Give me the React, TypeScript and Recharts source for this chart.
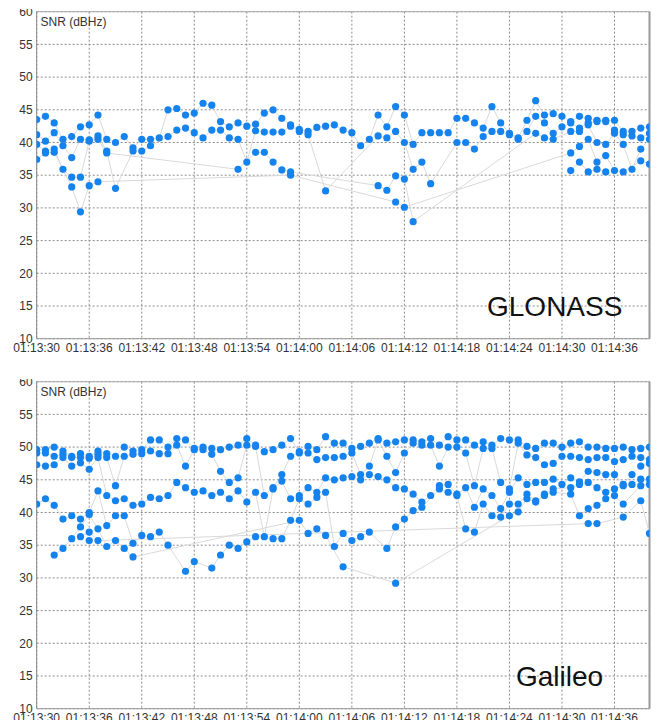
import { ComposedChart, Line, XAxis, YAxis, CartesianGrid, ReferenceLine } from 'recharts';

const _ = null;

// one sample per second, 01:13:30 .. 01:14:40
const SECONDS = Array.from({ length: 71 }, (_v, i) => i);
const TICK_SECONDS = [0, 6, 12, 18, 24, 30, 36, 42, 48, 54, 60, 66];
const TICK_LABELS = [
  '01:13:30', '01:13:36', '01:13:42', '01:13:48', '01:13:54', '01:14:00',
  '01:14:06', '01:14:12', '01:14:18', '01:14:24', '01:14:30', '01:14:36',
];
const SNR_TICKS = [10, 15, 20, 25, 30, 35, 40, 45, 50, 55, 60];

// GLONASS satellites, SNR (dBHz) per second
const GLO_1 = [
  43.5, 44.0, 43.0, 40.5, 40.9, 42.4, 42.7, 44.2, 40.5, 40.0,
  40.9, 39.2, 40.5, 40.5, 40.7, 45.0, 45.2, 44.2, 44.5, 46.0,
  45.7, 43.2, 42.4, 43.0, 42.5, 42.8, 44.5, 45.0, 43.7, 42.7,
  42.0, 41.7, 42.3, 42.5, 42.7, 41.9, 41.5, 39.5, 40.5, 44.2,
  42.4, 45.5, 44.2, 39.7, 41.5, 41.5, 41.5, 41.5, 43.7, 43.7,
  43.0, 42.2, 45.5, 43.0, 41.4, 40.7, 43.4, 46.4, 44.2, 44.4,
  44.0, 43.2, 44.0, 43.7, 43.4, 43.4, 43.4, 41.7, 41.7, 42.2,
  42.4,
];
const GLO_2 = [
  41.2, 40.2, 41.5, 39.5, 37.7, 40.5, 40.4, 41.0, 38.7, 33.0,
  _, 38.7, 38.7, 39.5, _, 40.9, 41.9, 42.2, 41.5, 40.7,
  41.9, 41.9, 40.7, 40.5, 37.0, 41.8, 41.6, 41.6, 41.6, 42.5,
  41.7, 41.2, _, 32.6, _, _, _, _, _, 41.0,
  40.7, 41.7, 40.0, 35.9, 37.0, 33.7, _, _, 40.0, 40.0,
  39.0, 40.9, 41.7, 41.7, 41.2, 40.5, 41.7, 44.0, 43.0, 41.4,
  42.4, 43.0, 42.2, 43.0, 43.2, 43.2, 41.9, 41.2, 41.0, 40.7,
  41.4,
];
const GLO_3 = [
  39.7, 38.7, 39.0, 35.9, 34.7, 34.7, 40.2, 40.5, 38.4, _,
  _, _, _, _, _, _, _, _, _, _,
  _, _, _, 35.9, _, 38.5, 38.5, 37.0, 35.8, 35.5,
  _, _, _, _, _, _, _, _, _, 33.4,
  32.7, 34.9, 34.4, 27.9, _, _, _, _, _, _,
  _, _, _, _, _, _, _, 41.4, 40.7, 40.5,
  _, 41.7, 41.7, 42.7, 40.0, 39.7, 41.4, 39.7, 35.9, 39.0,
  40.5,
];
const GLO_4 = [
  37.4, 38.4, 38.5, _, 33.2, 29.4, 33.4, 34.0, _, _,
  _, _, _, _, _, _, _, _, _, _,
  _, _, _, _, _, _, _, _, _, 35.0,
  _, _, _, _, _, _, _, _, _, _,
  _, 30.9, 30.1, _, _, _, _, _, _, _,
  _, _, _, _, _, _, _, _, _, _,
  _, 38.4, 39.4, 40.5, 37.0, 38.0, 35.7, 35.5, _, 37.2,
  36.7,
];
const GLO_5 = [
  _, _, _, _, _, _, _, _, _, _,
  _, _, _, _, _, _, _, _, _, _,
  _, _, _, _, _, _, _, _, _, _,
  _, _, _, _, _, _, _, _, _, _,
  _, _, _, _, _, _, _, _, _, _,
  _, _, _, _, _, _, _, _, _, _,
  _, 35.7, 37.0, 35.5, 35.9, 35.5, _, _, _, _,
  _,
];

// Galileo satellites, SNR (dBHz) per second
const GAL_1 = [
  49.6, 49.6, 50.0, 49.4, 48.6, 49.0, 48.6, 49.4, 49.0, 48.6,
  50.0, 49.4, 49.6, 51.1, 51.1, 50.0, 51.3, 51.1, 49.8, 50.0,
  49.8, 49.6, 50.0, 50.3, 51.3, 50.3, 49.3, 49.6, 50.3, 51.3,
  49.3, 50.1, 49.6, 51.6, 50.6, 50.6, 49.8, 50.1, 50.6, 51.3,
  50.6, 50.8, 51.1, 51.1, 50.8, 51.3, 50.3, 51.6, 51.1, 51.1,
  50.3, 50.8, 50.3, 51.3, 51.1, 51.1, 50.1, 49.8, 50.6, 50.6,
  50.0, 50.6, 50.8, 50.0, 50.0, 49.8, 49.8, 50.0, 49.6, 49.8,
  50.0,
];
const GAL_2 = [
  49.1, 49.1, 48.6, 48.9, 48.4, 48.4, 48.3, 48.9, 48.4, 44.1,
  48.6, 48.9, 49.0, 49.4, 49.0, 49.0, 50.3, 47.1, 49.6, 49.6,
  48.9, 46.3, 44.6, 45.3, 50.3, 50.1, 42.6, 43.8, 45.8, 48.6,
  49.1, 49.1, 48.1, 48.4, 48.4, 48.6, 49.1, 45.8, 47.1, 51.1,
  48.6, 46.1, 49.1, 50.6, 50.3, 50.3, 47.1, 50.0, 50.0, 49.1,
  44.1, 49.8, 49.8, 44.6, 43.6, 50.6, 48.8, 48.4, 47.3, 47.5,
  48.6, 48.6, 48.4, 48.1, 48.4, 48.4, 47.8, 48.1, 48.6, 48.4,
  48.1,
];
const GAL_3 = [
  47.3, 47.1, 47.3, 48.4, 47.1, 47.6, 46.6, 48.4, 42.6, 41.8,
  42.1, 41.1, 41.3, 42.3, 42.1, 42.6, 44.6, 43.8, 43.1, 43.3,
  42.6, 43.1, 42.1, 43.3, 41.6, 43.1, 36.3, 43.6, 44.8, 42.1,
  42.6, 43.8, 43.1, 45.3, 45.0, 45.3, 45.5, 45.0, 45.8, 45.5,
  45.0, 43.8, 43.6, 42.8, 41.6, 42.6, 44.1, 44.3, 42.8, 43.8,
  40.8, 43.6, 42.6, 40.6, 43.1, 45.3, 44.3, 44.6, 44.6, 45.1,
  44.3, 45.3, 44.7, 46.3, 46.1, 45.8, 45.8, 44.3, 45.8, 47.1,
  47.5,
];
const GAL_4 = [
  41.3, 42.1, 41.1, 39.0, 39.5, 39.0, 40.0, 43.3, 38.0, 39.5,
  39.5, 35.3, 36.5, 36.3, 37.0, 35.0, _, 31.0, 32.5, _,
  31.5, 33.5, 35.0, 34.5, 35.5, 36.3, _, 36.0, 36.0, 38.8,
  42.1, 41.3, 42.3, 43.1, 34.8, 36.8, 35.7, 36.3, 37.0, _,
  34.5, 37.8, 39.0, 40.3, 40.8, _, 43.6, 43.1, 42.6, 37.5,
  37.0, 41.3, 39.5, 39.3, 41.3, 41.3, 42.8, 41.8, 42.8, 43.6,
  _, 43.8, 44.3, 44.6, 43.8, 43.1, 43.6, 44.1, 44.3, 45.1,
  45.1,
];
const GAL_5 = [
  _, _, 33.5, 34.5, 36.0, 37.8, 39.7, 37.5, 34.8, 35.7,
  34.5, 33.2, _, _, _, _, _, _, _, _,
  _, _, _, _, _, _, _, _, _, _,
  38.8, 36.8, 37.5, 36.5, _, 31.7, _, _, _, _,
  _, 29.2, _, _, _, _, _, _, _, _,
  _, _, _, _, 39.5, 40.1, 42.1, 41.6, 42.6, 43.1,
  _, 42.8, 39.5, 40.6, 41.1, 42.1, 42.6, 41.3, _, 44.1,
  44.3,
];
const GAL_6 = [
  _, _, _, _, _, 36.3, 37.0, 35.7, _, _,
  _, _, _, _, _, _, _, _, _, _,
  _, _, _, _, _, _, _, _, _, _,
  _, _, _, _, _, _, _, _, _, _,
  _, _, _, _, _, _, _, _, _, _,
  _, _, _, _, _, _, _, _, _, _,
  _, _, _, 38.3, 38.3, _, _, 39.3, _, 41.8,
  36.8,
];
const GAL_7 = [
  _, _, _, _, _, _, 35.7, _, _, _,
  _, _, _, _, _, _, _, _, _, _,
  _, _, _, _, _, _, _, _, _, _,
  _, _, _, _, _, _, _, _, _, _,
  _, _, _, _, _, _, _, _, _, _,
  _, _, _, _, _, _, _, _, _, _,
  _, _, _, _, _, _, _, _, _, _,
  _,
];

const DOT = '#1583ee';
const LINK = '#d9d9d9';
const FONT = '"Liberation Sans", Arial, sans-serif';

function SnrPanel({ tracks, name, nameLeft }: { tracks: (number | null)[][]; name: string; nameLeft: number }) {
  const keys = tracks.map((_t, i) => `s${i}`);
  const data = SECONDS.map((t, i) => {
    const row: any = { t };
    tracks.forEach((tr, k) => {
      row[keys[k]] = tr[i];
    });
    return row;
  });

  return (
    <div style={{ position: 'relative', width: 660, height: 351 }}>
      <ComposedChart width={660} height={351} data={data} margin={{ top: 2.7, right: 10.5, left: 0, bottom: 0 }}>
        <CartesianGrid stroke="#8c8c8c" strokeDasharray="2 2" />
        <XAxis
          type="number"
          dataKey="t"
          domain={[0, 70]}
          ticks={TICK_SECONDS}
          interval={0}
          allowDataOverflow
          tickFormatter={(v) => TICK_LABELS[TICK_SECONDS.indexOf(v)]}
          tickLine={false}
          tickSize={5}
          tickMargin={0}
          height={21.3}
          axisLine={{ stroke: '#999' }}
          tick={{ fill: '#333', fontSize: 12 }}
        />
        <YAxis
          type="number"
          domain={[10, 60]}
          ticks={SNR_TICKS}
          interval={0}
          allowDataOverflow
          width={36.7}
          tickLine={false}
          tickSize={3}
          tickMargin={1}
          axisLine={{ stroke: '#888' }}
          tick={{ fill: '#333', fontSize: 12 }}
        />
        <ReferenceLine y={60} stroke="#aaa" />
        <ReferenceLine x={70} stroke="#999" strokeWidth={2} />
        {keys.map((k) => (
          <Line
            key={'l' + k}
            type="linear"
            dataKey={k}
            stroke={LINK}
            strokeWidth={1}
            dot={false}
            activeDot={false}
            connectNulls
            isAnimationActive={false}
          />
        ))}
        {keys.map((k) => (
          <Line
            key={'d' + k}
            type="linear"
            dataKey={k}
            stroke="none"
            dot={{ r: 3.6, fill: DOT, stroke: 'none' }}
            activeDot={false}
            isAnimationActive={false}
          />
        ))}
      </ComposedChart>
      <div style={{ position: 'absolute', left: 40.5, top: 6.5, fontSize: 12, lineHeight: '12px', color: '#333' }}>
        SNR (dBHz)
      </div>
      <div style={{ position: 'absolute', left: nameLeft, top: 283.8, fontSize: 28, lineHeight: '28px', color: '#111' }}>
        {name}
      </div>
    </div>
  );
}

export default function App() {
  return (
    <div style={{ position: 'absolute', left: 0, top: 0, width: 660, height: 720, background: '#fff', fontFamily: FONT, overflow: 'hidden' }}>
      <div style={{ position: 'absolute', left: 0, top: 9 }}>
        <SnrPanel tracks={[GLO_1, GLO_2, GLO_3, GLO_4, GLO_5]} name="GLONASS" nameLeft={487} />
      </div>
      <div style={{ position: 'absolute', left: 0, top: 379 }}>
        <SnrPanel tracks={[GAL_1, GAL_2, GAL_3, GAL_4, GAL_5, GAL_6, GAL_7]} name="Galileo" nameLeft={516} />
      </div>
    </div>
  );
}
